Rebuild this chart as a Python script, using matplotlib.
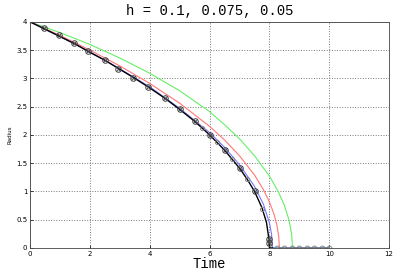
"""Radius vs time for three step sizes."""

import matplotlib.pyplot as plt

# h = 0.05 (black)
t_black = [0, 0.5, 1, 1.5, 2, 2.5, 3, 3.5, 4, 4.5, 5, 5.5, 6, 6.5, 7, 7.25,
           7.5, 7.75, 7.9, 7.97, 8.0, 8.1]
r_black = [4.0, 3.87, 3.74, 3.61, 3.46, 3.32, 3.16, 3.0, 2.83, 2.65, 2.45,
           2.24, 2.0, 1.73, 1.41, 1.22, 1.0, 0.71, 0.45, 0.2, 0.0, 0.0]
# marker points on the black curve
t_mk = [0.45, 0.95, 1.45, 1.95, 2.5, 2.95, 3.45, 3.95, 4.5, 5.0, 5.5, 6.0,
        6.5, 7.0, 7.5, 7.97, 7.97]
r_mk = [3.89, 3.76, 3.62, 3.48, 3.32, 3.17, 3.01, 2.85, 2.65, 2.45, 2.24,
        2.0, 1.73, 1.41, 1.0, 0.15, 0.08]
t_mk2 = [5.75, 6.25, 6.75, 7.25, 7.75, 7.97]
r_mk2 = [2.12, 1.87, 1.57, 1.22, 0.69, 0.12]
t_zero = [8.25, 8.5, 8.75, 9.0, 9.25, 9.5, 9.75, 10.0]
r_zero = [0, 0, 0, 0, 0, 0, 0, 0]

# h = 0.075 (blue)
t_blue = [0, 1, 2, 3, 4, 5, 6, 6.5, 7, 7.5, 7.8, 8.0, 8.07, 8.1, 10.0]
r_blue = [4.0, 3.74, 3.47, 3.17, 2.85, 2.47, 2.04, 1.78, 1.47, 1.09, 0.77,
          0.44, 0.24, 0.0, 0.0]

# h = 0.1 (red)
t_red = [0, 1, 2, 3, 4, 5, 6, 6.5, 7, 7.5, 7.8, 8.0, 8.15, 8.25, 8.31, 8.33,
         10.0]
r_red = [4.0, 3.76, 3.5, 3.22, 2.91, 2.56, 2.15, 1.91, 1.63, 1.29, 1.03, 0.81,
         0.6, 0.4, 0.2, 0.0, 0.0]

# green
t_green = [0, 1, 2, 3, 4, 5, 6, 6.5, 7, 7.5, 8.0, 8.3, 8.5, 8.65, 8.74, 8.77,
           10.0]
r_green = [4.0, 3.81, 3.6, 3.36, 3.09, 2.78, 2.41, 2.18, 1.93, 1.63, 1.27,
           0.99, 0.75, 0.5, 0.25, 0.0, 0.0]

xticks = [0, 2, 4, 6, 8, 10, 12]
yticks = [0, 0.5, 1, 1.5, 2, 2.5, 3, 3.5, 4]
ytick_labels = ["0", "0.5", "1", "1.5", "2", "2.5", "3", "3.5", "4"]


def main() -> None:
    fig = plt.figure(figsize=(4.02, 2.77), dpi=100)
    ax = fig.add_axes([0.075, 0.105, 0.893, 0.816])

    ax.plot(t_green, r_green, color="#66ee66", lw=0.8)
    ax.plot(t_red, r_red, color="#ff7777", lw=0.8)
    ax.plot(t_blue, r_blue, color="#7777ff", lw=0.8)
    ax.plot(t_black, r_black, color="black", lw=1.0)
    ax.plot(t_zero, r_zero, ls="none", marker="o", ms=3.5, mfc="none",
            mec="#888888", mew=0.7)
    ax.plot(t_mk2, r_mk2, ls="none", marker="o", ms=3.0, mfc="none",
            mec="#888888", mew=0.7)
    ax.plot(t_mk, r_mk, ls="none", marker="o", ms=4.0, mfc="none",
            mec="#444444", mew=0.7)
    ax.plot(t_mk, r_mk, ls="none", marker="x", ms=3.0, mec="#444444", mew=0.6)
    ax.plot([8.0, 10.0], [0, 0], color="green", lw=1.0)

    ax.set_xlim(0, 12)
    ax.set_ylim(0, 4)
    ax.set_xticks(xticks)
    ax.set_yticks(yticks)
    ax.set_yticklabels(ytick_labels)
    ax.tick_params(direction="in", labelsize=5, length=2, width=0.5, pad=2)
    ax.grid(True, ls=":", color="#777777", lw=0.7)
    for s in ax.spines.values():
        s.set_linewidth(0.6)
        s.set_color("#444444")

    ax.set_title("h = 0.1, 0.075, 0.05", family="Liberation Mono",
                 fontsize=10, pad=5)
    ax.set_xlabel("Time", family="Liberation Mono", fontsize=10, labelpad=0)
    ax.set_ylabel("Radius", fontsize=4, labelpad=3)

    fig.savefig("out.png", dpi=100)


if __name__ == "__main__":
    main()
